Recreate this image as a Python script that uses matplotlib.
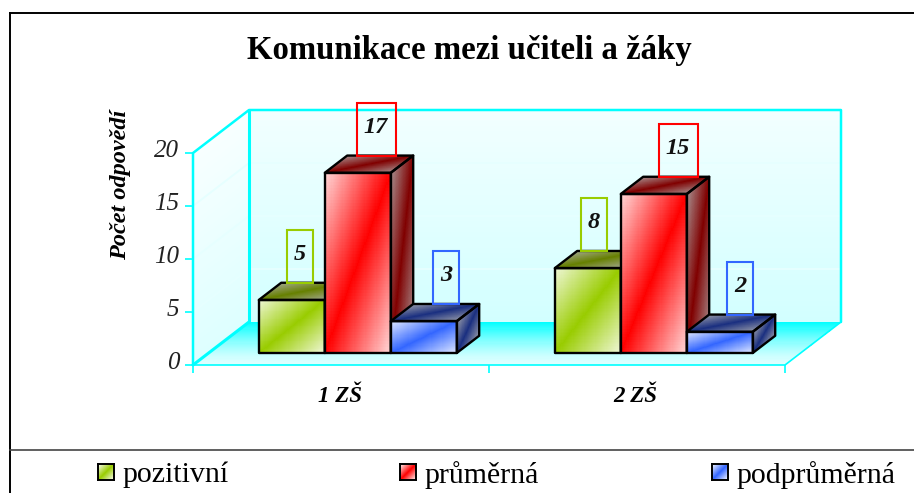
import numpy as np
import matplotlib
matplotlib.use('Agg')
import matplotlib.pyplot as plt
from matplotlib.colors import to_rgb
from matplotlib.lines import Line2D
from matplotlib.patches import Polygon, Rectangle
from matplotlib.transforms import ScaledTranslation

plt.rcParams['font.family'] = ['Liberation Serif', 'DejaVu Serif']

# Data
title = 'Komunikace mezi učiteli a žáky'
ylabel = 'Počet odpovědí'
categories = ['1 ZŠ', '2 ZŠ']
series = ['pozitivní', 'průměrná', 'podprůměrná']
colors = ['#99CC00', '#FF0000', '#3366FF']
dark_colors = ['#668000', '#800000', '#1A2F80']
values = [[5, 8], [17, 15], [3, 2]]
yticks = [0, 5, 10, 15, 20]

W, H = 914, 493
fig = plt.figure(figsize=(W/100, H/100), dpi=100)

# Plot box in pixels: x 193..785, y 365..153
ax = fig.add_axes([193/W, 1-365/H, (785-193)/W, (365-153)/H])
ax.set_xlim(0, 2)
ax.set_ylim(0, 20)
ax.patch.set_visible(False)
for s in ax.spines.values():
    s.set_visible(False)

# Depth of the box in data units
DX, DY = 56/296, 43/10.6
# Bars sit in this slice of the depth
D0, D1 = 0.3, 0.7
BAR_W = 66/296
GROUP_W = 3*BAR_W
# Label boxes do not sit quite centred on the bars (pixels)
label_nudge = [[-3, -5], [7, 13], [11, 9]]


def mix(a, b, t):
    a, b = np.array(to_rgb(a)), np.array(to_rgb(b))
    return a[None, None, :] + (b-a)[None, None, :]*t[:, :, None]


def face(p0, pu, pv, t, c0, c1, z):
    # Skewed quad p0, p0+pu, p0+pv filled with a colour ramp
    n = t.shape[0]
    u, v = np.meshgrid(np.linspace(0, 1, n+1), np.linspace(0, 1, n+1))
    X = p0[0] + pu[0]*u + pv[0]*v
    Y = p0[1] + pu[1]*u + pv[1]*v
    m = ax.pcolormesh(X, Y, mix(c0, c1, t), shading='flat', zorder=z, antialiased=False)
    m.set_clip_on(False)


def ramp(n=60):
    # 0 along the main diagonal, 1 in the two far corners
    c = (np.arange(n)+0.5)/n
    u, v = np.meshgrid(c, c)
    return np.abs(u-v)


def vramp(n=40):
    c = (np.arange(n)+0.5)/n
    return np.tile(c[:, None], (1, n))


# Walls and floor
face((DX, DY), (2, 0), (0, 20), vramp(), '#D2FFFF', '#F2FFFF', 1)
face((0, 0), (DX, DY), (0, 20), vramp(), '#DDFFFF', '#F8FFFF', 1)
face((0, 0), (2, 0), (DX, DY), vramp()**1.5, '#E0FFFF', '#00FFFF', 1)

# Faint gridlines
for v in yticks[1:-1]:
    ax.plot([0, DX, 2+DX], [v, v+DY, v+DY], color='#E6FFFF', lw=1.4, zorder=2, clip_on=False)

# Cyan box outline
box = dict(color='#00FFFF', zorder=3, clip_on=False, solid_capstyle='round')
ax.plot([0, 0, DX, 2+DX, 2+DX], [0, 20, 20+DY, 20+DY, DY], lw=1.8, **box)
ax.plot([DX, DX], [DY, 20+DY], lw=2.2, **box)
ax.plot([0, DX], [0, DY], lw=2.2, **box)
ax.plot([0, 2, 2+DX], [0, 0, DY], lw=1.2, **box)

# Bars, data label boxes on top
for j, name in enumerate(series):
    for i, val in enumerate(values[j]):
        x0 = i + 0.5 - GROUP_W/2 + j*BAR_W + D0*DX
        y0 = (D0-0.02)*DY
        dx = (D1-D0)*DX
        dy = (D1-D0)*DY
        z = 10 + j*5 + i*20
        t = ramp()
        face((x0, y0), (BAR_W, 0), (0, val), t*0.85, colors[j], '#FFFFFF', z)
        face((x0+BAR_W, y0), (dx, dy), (0, val), t*0.8, dark_colors[j], '#B0B0B0', z)
        face((x0, y0+val), (BAR_W, 0), (dx, dy), t*0.8, dark_colors[j], '#B0B0B0', z)
        edge = dict(fill=False, ec='black', lw=1.7, joinstyle='round', zorder=z+1, clip_on=False)
        ax.add_patch(Rectangle((x0, y0), BAR_W, val, **edge))
        ax.add_patch(Polygon([(x0+BAR_W, y0), (x0+BAR_W+dx, y0+dy), (x0+BAR_W+dx, y0+dy+val),
                              (x0+BAR_W, y0+val)], **edge))
        ax.add_patch(Polygon([(x0, y0+val), (x0+dx, y0+dy+val), (x0+BAR_W+dx, y0+dy+val),
                              (x0+BAR_W, y0+val)], **edge))
        # Label box
        txt = str(val)
        bw = (39 if len(txt) > 1 else 26)/296
        cx = x0 + BAR_W/2 + dx/2 + label_nudge[j][i]/296
        by = y0 + val + dy
        ax.add_patch(Rectangle((cx-bw/2, by), bw, 53/10.6, fill=False, ec=colors[j], lw=1.5,
                               zorder=z+2, clip_on=False))
        ax.text(cx, by+2.65, txt, ha='center', va='center', fontsize=17.5, fontweight='bold',
                fontstyle='italic', color='#111111', zorder=z+3)

# Axes ticks and labels
ax.set_yticks(yticks)
ax.set_yticklabels([str(v) for v in yticks], fontsize=18, fontstyle='italic', color='#222222')
ax.tick_params(axis='y', length=6, width=1.2, color='#00FFFF', pad=4)
shift = ScaledTranslation(0, 3.5/72, fig.dpi_scale_trans)
for lab in ax.get_yticklabels():
    lab.set_transform(lab.get_transform() + shift)
ax.set_xticks([0, 1, 2])
ax.set_xticklabels([])
ax.set_xticks([0.5, 1.5], minor=True)
ax.set_xticklabels(categories, minor=True, fontsize=16.5, fontweight='bold', fontstyle='italic')
ax.tick_params(axis='x', which='major', length=6, width=1.2, color='#00FFFF')
ax.tick_params(axis='x', which='minor', length=0, pad=15)
shift_x = ScaledTranslation(-1/72, 0, fig.dpi_scale_trans)
for lab in ax.get_xticklabels(minor=True):
    lab.set_transform(lab.get_transform() + shift_x)

fig.text(121/W, 1-185/H, ylabel, rotation=90, ha='center', va='center', fontsize=17.5,
         fontweight='bold', fontstyle='italic')
fig.text(469/W, 1-51/H, title, ha='center', va='center', fontsize=23.6, fontweight='bold')

# Frame
frame = dict(transform=fig.transFigure, color='black', lw=1.4)
fig.add_artist(Line2D([9.5/W, 1], [1-12.5/H, 1-12.5/H], **frame))
fig.add_artist(Line2D([9.5/W, 9.5/W], [0, 1-12.5/H], **frame))
fig.add_artist(Line2D([9.5/W, 1], [1-450/H, 1-450/H], transform=fig.transFigure, color='#444444', lw=1.2))

# Legend
legend_x = [98, 400, 712]
for name, c, lx in zip(series, colors, legend_x):
    sw = fig.add_axes([lx/W, 1-480/H, 16/W, 16/H])
    n = 20
    grid = (np.arange(n)+0.5)/n
    u, v = np.meshgrid(grid, grid)
    sw.imshow(mix(c, '#FFFFFF', np.abs(u-v)), origin='lower', aspect='auto', extent=(0, 1, 0, 1))
    sw.set_xticks([])
    sw.set_yticks([])
    for s in sw.spines.values():
        s.set_linewidth(1.4)
    fig.text((lx+24)/W, 1-475/H, name, ha='left', va='center', fontsize=21.5)

fig.savefig('out.png', dpi=100)
